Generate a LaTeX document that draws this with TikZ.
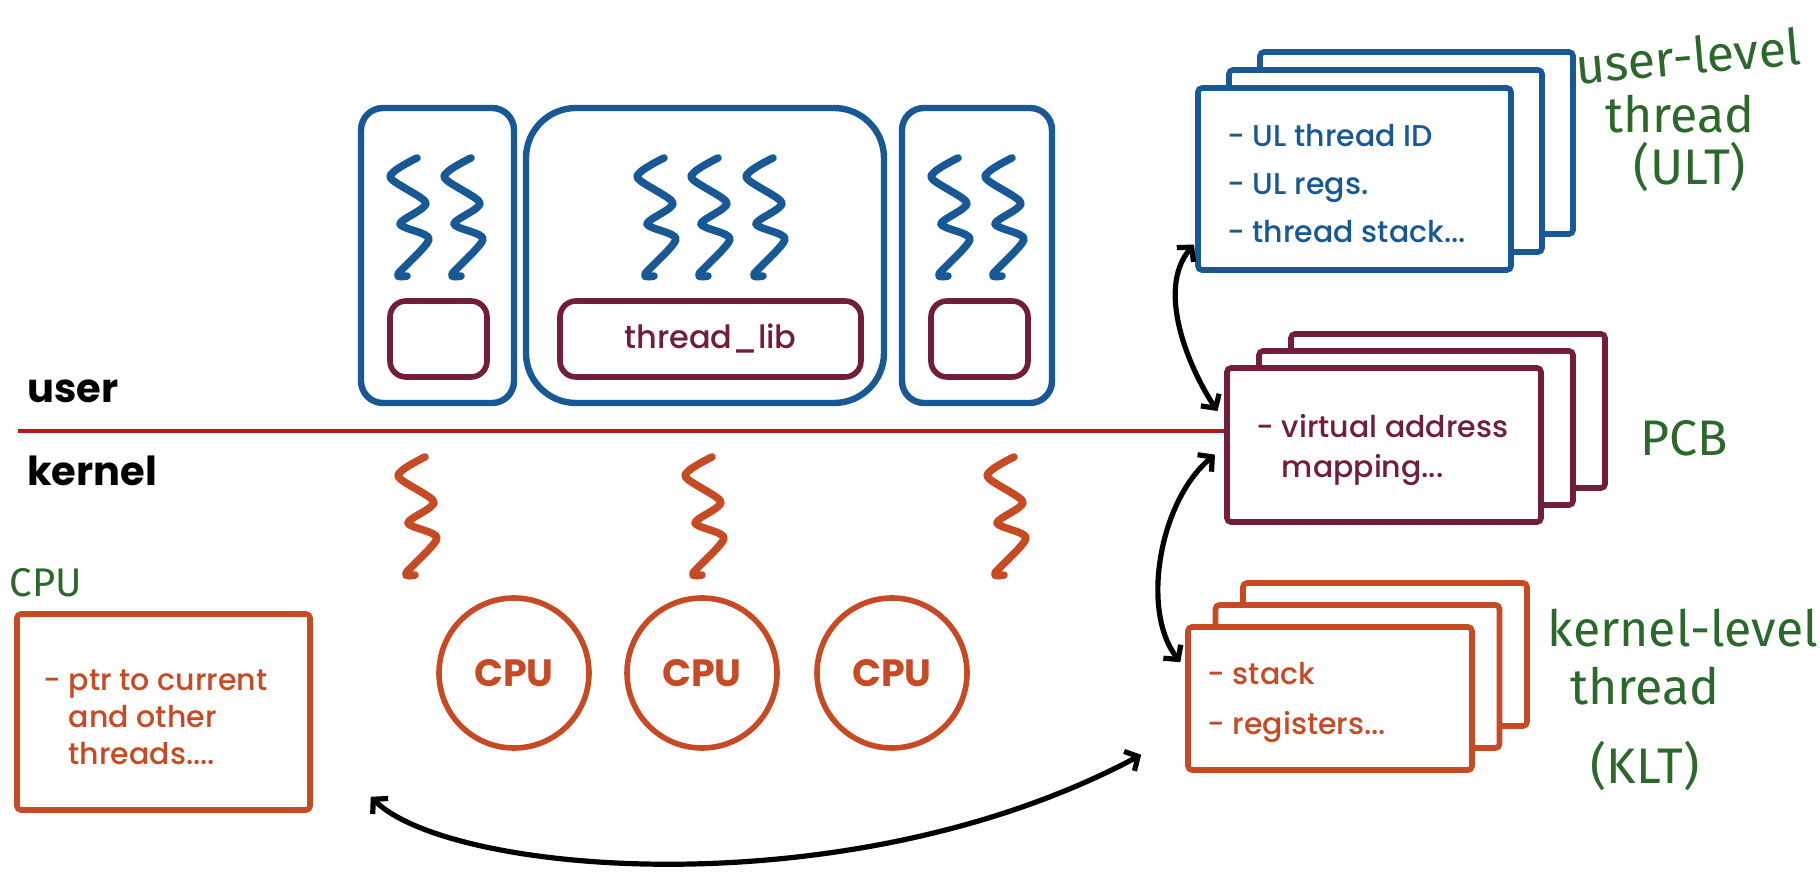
\documentclass[tikz,border=0pt]{standalone}
\usepackage{fontspec}
\setmainfont{Poppins}
\newfontfamily\medfont{Poppins Medium}
\newfontfamily\handfont{Fira Sans}
\usetikzlibrary{arrows.meta}

\definecolor{ublue}{RGB}{24,88,148}
\definecolor{libred}{RGB}{112,30,60}
\definecolor{kred}{RGB}{198,74,36}
\definecolor{lred}{RGB}{176,26,26}
\definecolor{hgreen}{RGB}{44,104,44}

\tikzset{
  proc/.style={draw=ublue, line width=3.2pt, minimum height=147.5pt},
  libbox/.style={draw=libred, line width=2.8pt, rounded corners=8pt, minimum height=38pt},
  stackbox/.style={draw=#1, fill=white, line width=2.8pt, rounded corners=2pt},
  info/.style={anchor=west, align=left, font=\medfont\fontsize{15}{24}\selectfont},
  cpu/.style={circle, draw=kred, line width=2.8pt, minimum size=75pt, text=kred, font=\bfseries\fontsize{19}{20}\selectfont},
  hand/.style={text=hgreen, font=\handfont\fontsize{25}{27}\selectfont},
  squig/.pic={
    \draw[line width=3.8pt, line cap=round, line join=round]
      plot[smooth, tension=0.45] coordinates {(8,0) (-19,19) (17,45) (-9,66) (20,81) (-11,116) (-2,118)};
  }
}

\begin{document}
\begin{tikzpicture}[x=0.5pt, y=-0.5pt, line width=2.6pt, >={Straight Barb[length=5pt,width=11pt]}]
\path[use as bounding box, fill=white] (0,0) rectangle (1820,881);

% processes in user space
\node[proc, minimum width=76.5pt, rounded corners=11pt] (procA) at (437.5,255.5) {};
\node[proc, minimum width=179pt, rounded corners=25pt] (procB) at (705,255.5) {};
\node[proc, minimum width=75pt, rounded corners=11pt] (procC) at (977,255.5) {};
\node[libbox, minimum width=48.5pt] (libA) at (438.5,339) {};
\node[libbox, minimum width=150.5pt, text=libred, font=\medfont\fontsize{16}{18}\selectfont] (libB) at (710.5,339) {thread\_lib};
\node[libbox, minimum width=48.5pt] (libC) at (979.5,339) {};
\foreach \x in {409,463,656,710,765,950,1004} \pic[color=ublue] at (\x,158) {squig};

% user / kernel boundary
\node[anchor=base west, font=\bfseries\fontsize{20}{24}\selectfont] (user) at (18,403) {user};
\node[anchor=base west, font=\bfseries\fontsize{20}{24}\selectfont] (kernel) at (18,486) {kernel};
\coordinate (lstart) at (18,431);

% kernel threads and cpus
\foreach \x in {417,704,1006} \pic[color=kred] at (\x,457) {squig};
\foreach \x [count=\j] in {514,702,892} \node[cpu] (cpu\j) at (\x,673) {CPU};
\node[stackbox=kred, minimum width=146.5pt, minimum height=98pt] (cpubox) at (163.5,712) {};
\node[info, text=kred, yshift=-2.5pt, font=\medfont\fontsize{15}{18.5}\selectfont] (cputext) at ([xshift=10pt]cpubox.west) {- ptr to current\\\phantom{- }and other\\\phantom{- }threads....};

% data structures
\foreach \k in {2,1} \node[stackbox=ublue, minimum width=156.5pt, minimum height=91pt] at (1354.5+31*\k,179-18*\k) {};
\node[stackbox=ublue, minimum width=156.5pt, minimum height=91pt] (ult) at (1354.5,179) {};
\node[info, text=ublue, yshift=-2.5pt] (ulttext) at ([xshift=11.5pt]ult.west) {- UL thread ID\\- UL regs.\\- thread stack...};

\foreach \k in {2,1} \node[stackbox=libred, minimum width=157pt, minimum height=77pt] at (1384+32*\k,445-17*\k) {};
\node[stackbox=libred, minimum width=157pt, minimum height=77pt] (pcb) at (1384,445) {};
\node[info, text=libred, yshift=-2.5pt, font=\medfont\fontsize{15}{20}\selectfont] (pcbtext) at ([xshift=11.5pt]pcb.west) {- virtual address\\\phantom{- }mapping...};

\foreach \k in {2,1} \node[stackbox=kred, minimum width=142pt, minimum height=71.5pt] at (1330+27.5*\k,698.5-22*\k) {};
\node[stackbox=kred, minimum width=142pt, minimum height=71.5pt] (klt) at (1330,698.5) {};
\node[info, text=kred, yshift=-2pt, font=\medfont\fontsize{15}{25}\selectfont] (klttext) at ([xshift=6.5pt]klt.west) {- stack\\- registers...};

\draw[lred, line width=2.2pt] (lstart) -- (lstart -| pcb.west);

% links
\draw[<->, shorten <=1pt, shorten >=6pt] ([yshift=-32pt]ult.west) .. controls (1155,290) and (1190,370) .. ([yshift=12pt]pcb.west);
\draw[<->, shorten <=6pt, shorten >=4pt] ([yshift=-1pt]pcb.west) .. controls (1160,500) and (1140,610) .. ([yshift=15pt]klt.west);
\draw[<->] ([xshift=29pt,yshift=8pt]cpubox.south east) .. controls (450,875) and (850,910) .. ([xshift=-22pt,yshift=9pt]klt.south west);

% handwritten notes
\node[hand, rotate=5] (ultnote) at (1688,56) {user-level};
\node[hand] (ultnote2) at (1680,114) {thread};
\node[hand] (ultnote3) at (1690,167) {(ULT)};
\node[hand] (pcbnote) at (1684,438) {PCB};
\node[hand] (kltnote) at (1683,628) {kernel-level};
\node[hand] (kltnote2) at (1645,686) {thread};
\node[hand] (kltnote3) at (1645,766) {(KLT)};
\node[hand, font=\handfont\fontsize{20}{22}\selectfont] (cpunote) at (46,583) {CPU};
\end{tikzpicture}
\end{document}
